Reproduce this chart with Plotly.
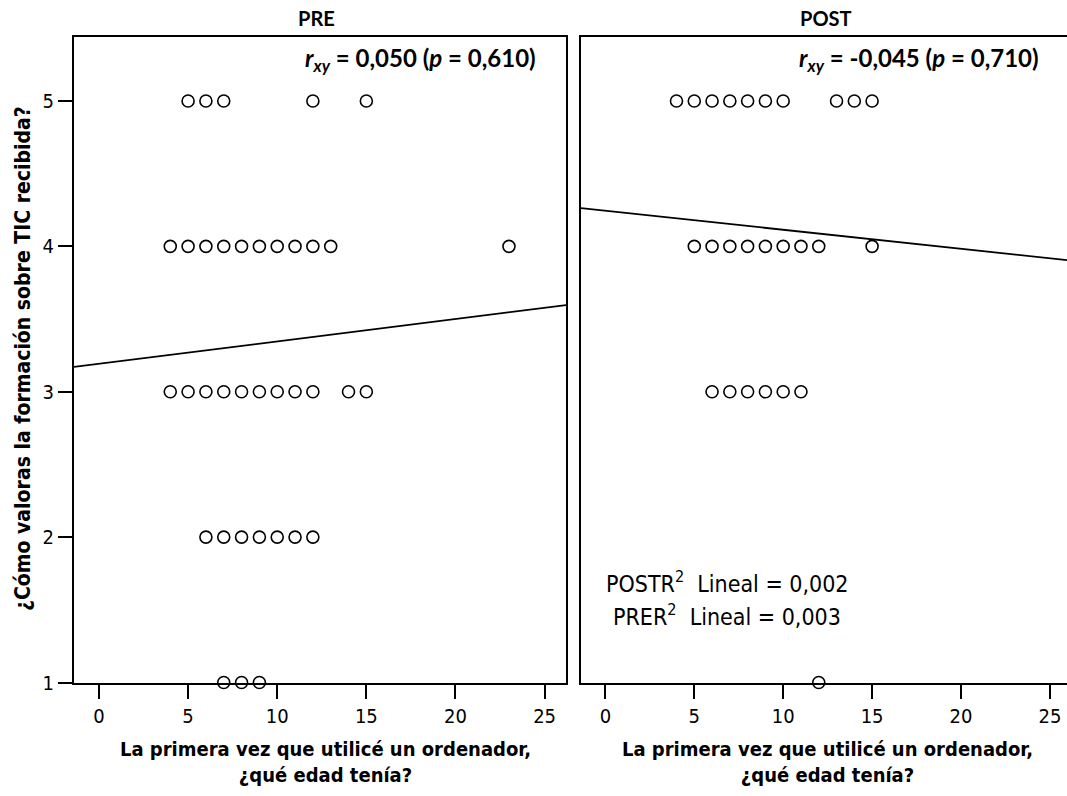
import plotly.graph_objects as go

# Age at first computer use (x) vs rating of ICT training received (y)
pre_x = [5, 6, 7, 12, 15,
         4, 5, 6, 7, 8, 9, 10, 11, 12, 13, 23,
         4, 5, 6, 7, 8, 9, 10, 11, 12, 14, 15,
         6, 7, 8, 9, 10, 11, 12,
         7, 8, 9]
pre_y = [5] * 5 + [4] * 11 + [3] * 11 + [2] * 7 + [1] * 3

post_x = [4, 5, 6, 7, 8, 9, 10, 13, 14, 15,
          5, 6, 7, 8, 9, 10, 11, 12, 15,
          6, 7, 8, 9, 10, 11,
          12]
post_y = [5] * 10 + [4] * 9 + [3] * 6 + [1]

# Linear fit lines (intercept, slope)
pre_fit = (3.192, 0.0154)
post_fit = (4.245, -0.0131)

pre_r, pre_p = "0,050", "0,610"
post_r, post_p = "-0,045", "0,710"
pre_r2, post_r2 = "0,003", "0,002"

x_ticks = [0, 5, 10, 15, 20, 25]
y_ticks = [1, 2, 3, 4, 5]

x_title = "La primera vez que utilicé un ordenador,<br>¿qué edad tenía?"
y_title = "¿Cómo valoras la formación sobre TIC recibida?"

xr_pre = [-1.4, 26.2]
xr_post = [-1.37, 25.96]
yr = [1.0, 5.44]

narrow = "Liberation Sans Narrow, DejaVu Sans Condensed, sans-serif"
heading = "Lato, Carlito, Open Sans, sans-serif"

W, H = 1067, 796
fig = go.Figure()

marker = dict(symbol="circle-open", size=12, color="black",
              line=dict(width=1.6, color="black"))
fig.add_trace(go.Scatter(x=pre_x, y=pre_y, mode="markers", marker=marker,
                         xaxis="x", yaxis="y", cliponaxis=False, showlegend=False))
fig.add_trace(go.Scatter(x=post_x, y=post_y, mode="markers", marker=marker,
                         xaxis="x2", yaxis="y2", cliponaxis=False, showlegend=False))

for (a, b), rng, xa, ya in [(pre_fit, xr_pre, "x", "y"), (post_fit, xr_post, "x2", "y2")]:
    fig.add_trace(go.Scatter(x=rng, y=[a + b * rng[0], a + b * rng[1]], mode="lines",
                             line=dict(color="black", width=1.8),
                             xaxis=xa, yaxis=ya, showlegend=False))

dom_pre = [74 / W, 566 / W]
dom_post = [581 / W, 1.0]
ydom = [(H - 682.5) / H, (H - 37) / H]


def x_axis(domain, rng, anchor):
    return dict(domain=domain, range=rng, anchor=anchor, automargin=False,
                tickmode="array", tickvals=x_ticks, ticks="outside", ticklen=14,
                tickwidth=2, tickcolor="black", showgrid=False, zeroline=False,
                showline=True, mirror=True, linecolor="black", linewidth=2,
                tickfont=dict(family=narrow, size=20, color="black"))


fig.update_layout(
    template="none",
    width=W, height=H, margin=dict(l=0, r=0, t=0, b=0, autoexpand=False),
    paper_bgcolor="white", plot_bgcolor="white",
    xaxis=x_axis(dom_pre, xr_pre, "y"),
    xaxis2=x_axis(dom_post, xr_post, "y2"),
    yaxis=dict(domain=ydom, range=yr, anchor="x", automargin=False,
               tickmode="array", tickvals=y_ticks,
               ticks="outside", ticklen=14, tickwidth=2, tickcolor="black",
               showgrid=False, zeroline=False, showline=True, mirror=True,
               linecolor="black", linewidth=2,
               tickfont=dict(family=narrow, size=20, color="black")),
    yaxis2=dict(domain=ydom, range=yr, anchor="x2", automargin=False,
                showticklabels=False, ticks="",
                showgrid=False, zeroline=False, showline=True, linecolor="black",
                linewidth=2),
)


def note(text, x, y, size, family, **kw):
    d = dict(text=text, x=x / W, y=(H - y) / H, xref="paper", yref="paper",
             xanchor="center", yanchor="middle", showarrow=False,
             font=dict(family=family, size=size, color="black"))
    d.update(kw)
    return d


ann = []
# panel headings
ann.append(note("<b>PRE</b>", 316, 18, 20, heading))
ann.append(note("<b>POST</b>", 826, 18, 20, heading))
# correlation labels
ann.append(note(f"<b><i>r<sub>xy</sub></i> = {pre_r} (<i>p</i> = {pre_p})</b>",
                538, 60, 24, heading, xanchor="right"))
ann.append(note(f"<b><i>r<sub>xy</sub></i> = {post_r} (<i>p</i> = {post_p})</b>",
                1041, 60, 24, heading, xanchor="right"))
# x axis titles
ann.append(note(f"<b>{x_title}</b>", 325, 762, 20, narrow))
ann.append(note(f"<b>{x_title}</b>", 827, 762, 20, narrow))
# y axis title
ann.append(note(f"<b>{y_title}</b>", 23, 359, 21, narrow, textangle=-90))
# R squared legend
ann.append(note(f"POSTR<sup>2</sup>  Lineal = {post_r2}", 727, 582, 23, narrow))
ann.append(note(f"PRER<sup>2</sup>  Lineal = {pre_r2}", 727, 615, 23, narrow))
fig.update_layout(annotations=ann)

fig.write_html("out.html")
